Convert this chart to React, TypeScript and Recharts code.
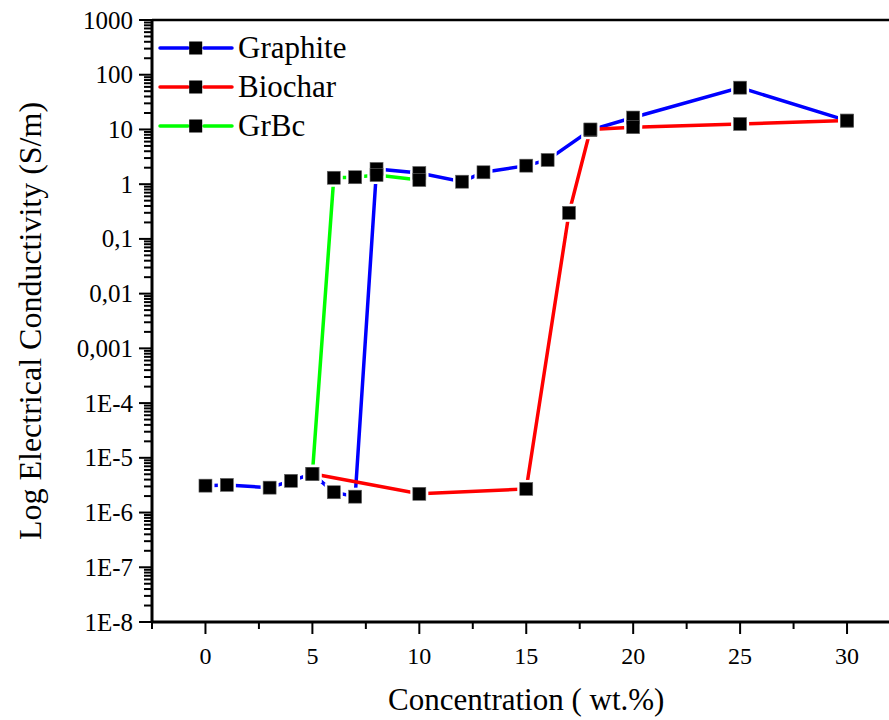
import { Line, LineChart, ReferenceLine, XAxis, YAxis } from 'recharts';

// concentration (wt.%) and conductivity (S/m) per filler
const graphiteConc = [0, 1, 3, 4, 5, 6, 7, 8, 10, 12, 13, 15, 16, 18, 20, 25, 30];
const graphiteSigma = [3.1e-6, 3.2e-6, 2.85e-6, 3.8e-6, 5.1e-6, 2.35e-6, 1.95e-6, 1.9, 1.6, 1.11, 1.65, 2.18, 2.77, 9.7, 16.5, 58, 14.5];
const biocharConc = [5, 10, 15, 17, 18, 20, 25, 30];
const biocharSigma = [5.1e-6, 2.2e-6, 2.7e-6, 0.3, 10, 11, 12.6, 14.5];
const grbcConc = [5, 6, 7, 8, 10];
const grbcSigma = [5.1e-6, 1.31, 1.34, 1.47, 1.19];

const decadeTicks = [1e-8, 1e-7, 1e-6, 1e-5, 1e-4, 1e-3, 1e-2, 1e-1, 1, 10, 100, 1000];
const decadeLabels = ['1E-8', '1E-7', '1E-6', '1E-5', '1E-4', '0,001', '0,01', '0,1', '1', '10', '100', '1000'];
const concTicks = [0, 5, 10, 15, 20, 25, 30];
const concMinorTicks = [-2.5, 2.5, 7.5, 12.5, 17.5, 22.5, 27.5, 32.5];

const FONT = '"Liberation Serif", "Times New Roman", serif';

const pairs = (xs: number[], ys: number[]) => xs.map((x, i) => ({ x, y: ys[i] }));

const series = [
  { name: 'Graphite', color: '#0000ff', data: pairs(graphiteConc, graphiteSigma) },
  { name: 'Biochar', color: '#ff0000', data: pairs(biocharConc, biocharSigma) },
  { name: 'GrBc', color: '#00ff00', data: pairs(grbcConc, grbcSigma) },
];

// log minor ticks 2..9 inside each decade
const yMinorTicks: number[] = [];
decadeTicks.slice(0, -1).forEach((d) => {
  for (let m = 2; m <= 9; m++) yMinorTicks.push(Number((m * d).toPrecision(3)));
});

const yTicks = [...decadeTicks, ...yMinorTicks].sort((a, b) => a - b);
const xTicks = [...concTicks, ...concMinorTicks].sort((a, b) => a - b);

function YTick(props: any) {
  const { x, y, payload } = props;
  const idx = decadeTicks.findIndex((d) => Math.abs(Math.log10(d) - Math.log10(payload.value)) < 1e-6);
  const major = idx >= 0;
  return (
    <g>
      <line x1={x - (major ? 13 : 8)} x2={x} y1={y} y2={y} stroke="#000" strokeWidth={2} />
      {major && (
        <text x={x - 19} y={y} textAnchor="end" dominantBaseline="central" fontFamily={FONT} fontSize={25} fill="#000">
          {decadeLabels[idx]}
        </text>
      )}
    </g>
  );
}

function XTick(props: any) {
  const { x, y, payload } = props;
  const major = concTicks.includes(payload.value);
  return (
    <g>
      <line x1={x} x2={x} y1={y} y2={y + (major ? 12 : 7)} stroke="#000" strokeWidth={2} />
      {major && (
        <text x={x} y={y + 42} textAnchor="middle" fontFamily={FONT} fontSize={24} fill="#000">
          {payload.value}
        </text>
      )}
    </g>
  );
}

// white square behind each point so the line stops short of the marker
const halo = (p: any) => <rect key={`h${p.index}`} x={p.cx - 9} y={p.cy - 9} width={18} height={18} fill="#fff" />;
const marker = (p: any) => (
  <rect key={`m${p.index}`} x={p.cx - 6.5} y={p.cy - 6.5} width={13} height={13} fill="#000" stroke="#666" strokeWidth={0.6} />
);

function LegendRow({ name, color }: { name: string; color: string }) {
  return (
    <div style={{ display: 'flex', alignItems: 'center', height: 39 }}>
      <svg width={81} height={20}>
        <line x1={3} x2={31} y1={10} y2={10} stroke={color} strokeWidth={3.5} strokeLinecap="round" />
        <line x1={47} x2={75} y1={10} y2={10} stroke={color} strokeWidth={3.5} strokeLinecap="round" />
        <rect x={32.2} y={3.5} width={13} height={13} fill="#000" />
      </svg>
      <span style={{ fontFamily: FONT, fontSize: 31, color: '#000', lineHeight: '39px' }}>{name}</span>
    </div>
  );
}

export default function App() {
  return (
    <div style={{ position: 'absolute', left: 0, top: 0, width: 889, height: 720, overflow: 'hidden', background: '#fff' }}>
      <LineChart width={910} height={720} margin={{ top: 20, right: 9.5, bottom: 0, left: 0 }}>
        <XAxis
          dataKey="x"
          type="number"
          domain={[-2.5, 32.5]}
          ticks={xTicks}
          interval={0}
          tick={XTick}
          tickLine={false}
          tickSize={0}
          tickMargin={0}
          height={98}
          axisLine={{ stroke: '#000', strokeWidth: 2.8 }}
          allowDataOverflow
          label={{
            value: 'Concentration ( wt.%)',
            position: 'insideBottom',
            offset: 10,
            style: { fontFamily: FONT, fontSize: 31, fill: '#000' },
          }}
        />
        <YAxis
          dataKey="y"
          type="number"
          scale="log"
          domain={[1e-8, 1000]}
          ticks={yTicks}
          interval={0}
          minTickGap={0}
          tick={YTick}
          tickLine={false}
          tickSize={0}
          tickMargin={0}
          width={152}
          axisLine={{ stroke: '#000', strokeWidth: 3 }}
          allowDataOverflow
        />
        <ReferenceLine y={1000} stroke="#000" strokeWidth={2.4} />
        {series.map((s) => (
          <Line
            key={s.name}
            data={s.data}
            dataKey="y"
            name={s.name}
            stroke={s.color}
            strokeWidth={3.5}
            strokeLinecap="round"
            dot={halo}
            activeDot={false}
            legendType="none"
            isAnimationActive={false}
          />
        ))}
        {series.map((s) => (
          <Line
            key={`${s.name}-pts`}
            data={s.data}
            dataKey="y"
            stroke="none"
            dot={marker}
            activeDot={false}
            legendType="none"
            isAnimationActive={false}
          />
        ))}
      </LineChart>
      <div style={{ position: 'absolute', left: 157, top: 28 }}>
        {series.map((s) => (
          <LegendRow key={s.name} name={s.name} color={s.color} />
        ))}
      </div>
      <div
        style={{
          position: 'absolute',
          left: 30,
          top: 321,
          transform: 'translate(-50%, -50%) rotate(-90deg)',
          whiteSpace: 'nowrap',
          fontFamily: FONT,
          fontSize: 32,
          color: '#000',
          lineHeight: 1,
        }}
      >
        Log Electrical Conductivity (S/m)
      </div>
    </div>
  );
}
